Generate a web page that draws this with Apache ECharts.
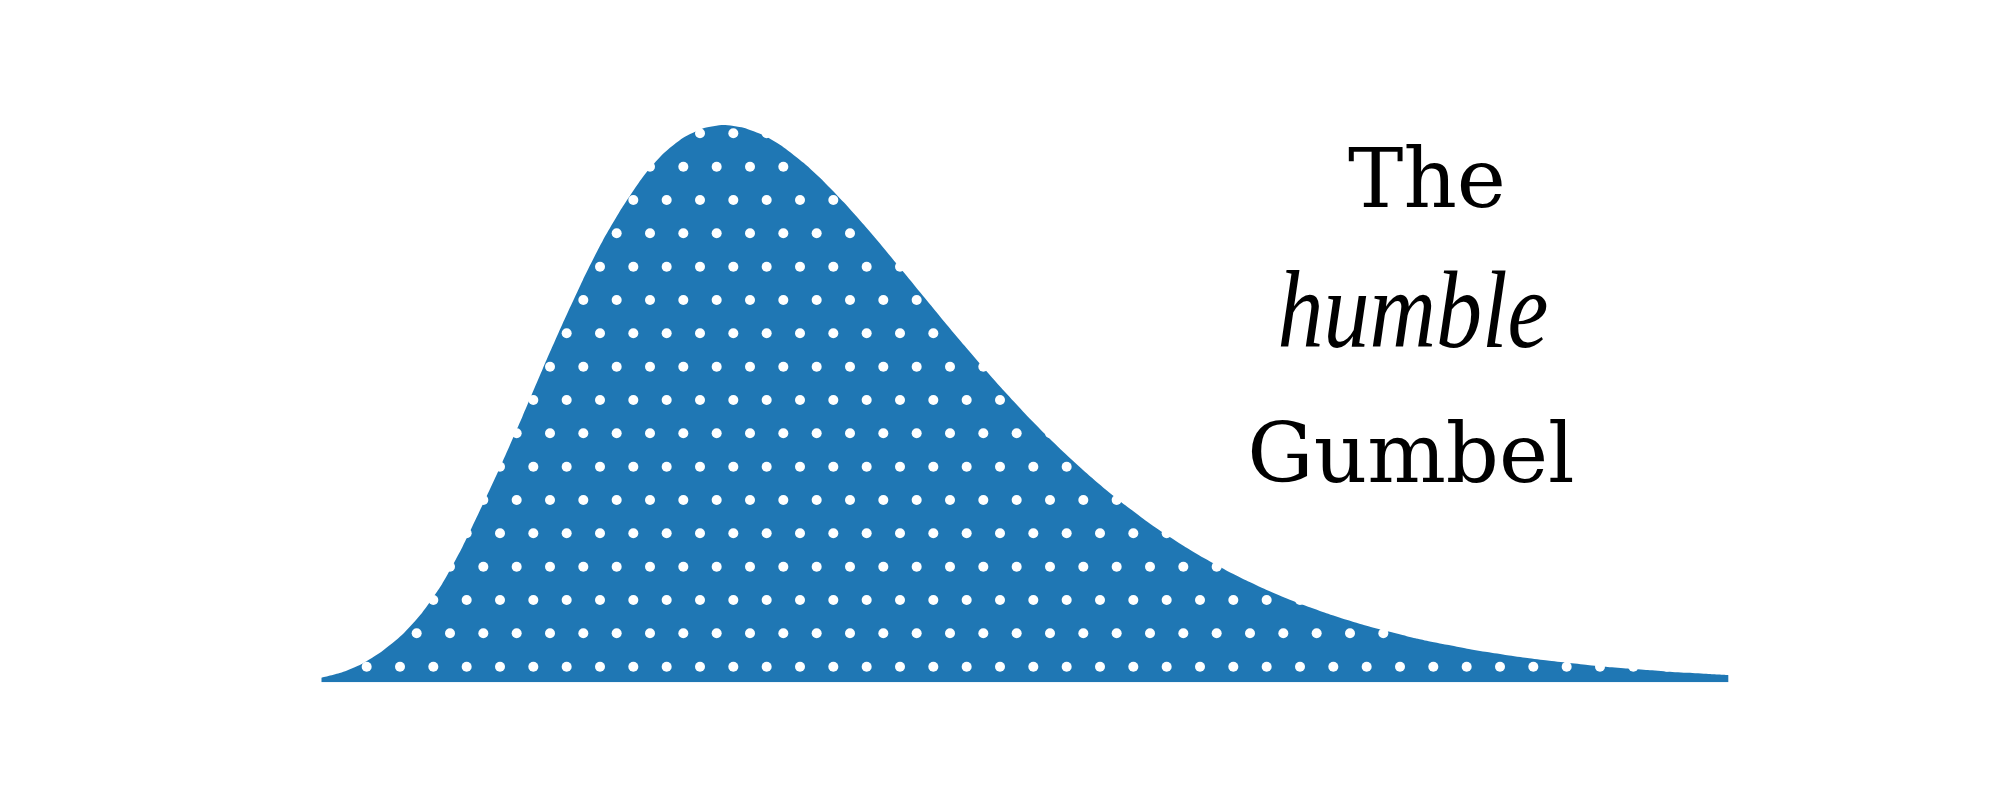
<!DOCTYPE html>
<html>
<head>
<meta charset="utf-8">
<script src="https://cdn.jsdelivr.net/npm/echarts@6/dist/echarts.min.js"></script>
<style>
  html, body { margin: 0; padding: 0; background: #ffffff; }
  #chart { position: absolute; left: 0; top: 0; width: 2000px; height: 800px; }
</style>
</head>
<body>
<div id="chart"></div>
<script>
// Gumbel density (x in standard units, y = density)
const xValues = [
  -2.0, -1.9, -1.8, -1.7, -1.6, -1.5, -1.4, -1.3, -1.2, -1.1,
  -1.0, -0.9, -0.8, -0.7, -0.6, -0.5, -0.4, -0.3, -0.2, -0.1,
  0.0, 0.1, 0.2, 0.3, 0.4, 0.5, 0.6, 0.7, 0.8, 0.9,
  1.0, 1.1, 1.2, 1.3, 1.4, 1.5, 1.6, 1.7, 1.8, 1.9,
  2.0, 2.1, 2.2, 2.3, 2.4, 2.5, 2.6, 2.7, 2.8, 2.9,
  3.0, 3.1, 3.2, 3.3, 3.4, 3.5, 3.6, 3.7, 3.8, 3.9,
  4.0, 4.1, 4.2, 4.3, 4.4, 4.5, 4.6, 4.7, 4.8, 4.9, 5.0];
const densities = [
  0.0050, 0.0084, 0.0140, 0.0222, 0.0330, 0.0475, 0.0665, 0.0905, 0.1180, 0.1465,
  0.1765, 0.2075, 0.2375, 0.2660, 0.2920, 0.3145, 0.3340, 0.3490, 0.3595, 0.3658,
  0.3679, 0.3661, 0.3611, 0.3532, 0.3429, 0.3307, 0.3170, 0.3022, 0.2867, 0.2707,
  0.2546, 0.2386, 0.2229, 0.2075, 0.1927, 0.1785, 0.1650, 0.1522, 0.1401, 0.1288,
  0.1182, 0.1083, 0.0992, 0.0907, 0.0829, 0.0756, 0.0690, 0.0628, 0.0572, 0.0521,
  0.0474, 0.0431, 0.0391, 0.0356, 0.0323, 0.0293, 0.0266, 0.0241, 0.0219, 0.0198,
  0.0180, 0.0163, 0.0148, 0.0134, 0.0121, 0.0110, 0.0100, 0.0090, 0.0082, 0.0074, 0.0067];
const titleLines = ['The', 'humble', 'Gumbel'];

const BLUE = '#1f77b4';

// dotted hatch tile (blue background, white dots on a staggered grid)
function makeHatch() {
  const step = 100 / 3;
  const c = document.createElement('canvas');
  c.width = 100; c.height = 200;
  const g = c.getContext('2d');
  g.fillStyle = BLUE;
  g.fillRect(0, 0, 100, 200);
  g.fillStyle = '#ffffff';
  for (let j = -1; j <= 7; j++) {
    const off = (Math.abs(j) % 2 === 1) ? step / 2 : 0;
    for (let i = -1; i <= 4; i++) {
      g.beginPath();
      g.arc(i * step + off, j * step, 5, 0, Math.PI * 2);
      g.fill();
    }
  }
  return c;
}

const seriesData = xValues.map((x, i) => [x, densities[i]]);

const chart = echarts.init(document.getElementById('chart'), null, { renderer: 'canvas', devicePixelRatio: 1 });
chart.setOption({
  animation: false,
  backgroundColor: '#ffffff',
  grid: { left: 321.5, right: 271.7, top: 76.1, bottom: 117.7 },
  xAxis: { type: 'value', min: -2, max: 5, show: false },
  yAxis: { type: 'value', min: 0.002, max: 0.4, show: false },
  series: [{
    type: 'line',
    data: seriesData,
    smooth: 0.2,
    showSymbol: false,
    lineStyle: { width: 0, opacity: 0 },
    areaStyle: { color: { image: makeHatch(), repeat: 'repeat' }, opacity: 1 },
    silent: true
  }],
  graphic: [
    { type: 'text', x: 1427, y: 227, style: { text: titleLines[0], font: '83px "DejaVu Serif"', fill: '#000', align: 'center', verticalAlign: 'bottom' } },
    { type: 'text', x: 1413, y: 373, scaleY: 1.2, style: { text: titleLines[1], font: 'italic 92px "Liberation Serif"', fill: '#000', align: 'center', verticalAlign: 'bottom' } },
    { type: 'text', x: 1411, y: 502, style: { text: titleLines[2], font: '83px "DejaVu Serif"', fill: '#000', align: 'center', verticalAlign: 'bottom' } }
  ]
});
</script>
</body>
</html>
